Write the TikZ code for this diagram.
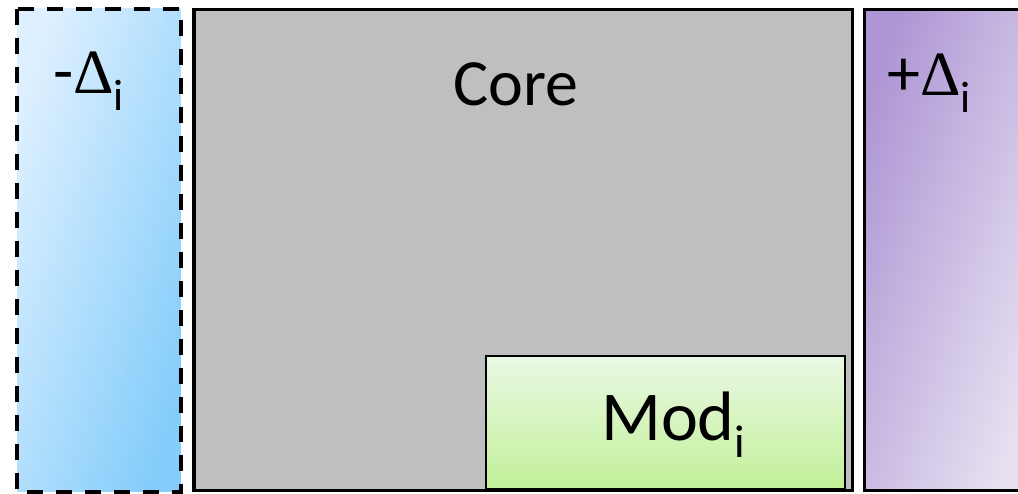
\documentclass[tikz,border=0pt]{standalone}
\usepackage{fontspec}
\setmainfont{Carlito}
\newfontfamily\deltafont{Liberation Serif}
\definecolor{minusTL}{RGB}{222,240,255}
\definecolor{minusBR}{RGB}{132,205,250}
\definecolor{plusTL}{RGB}{174,150,212}
\definecolor{plusBR}{RGB}{230,224,241}
\definecolor{coregray}{RGB}{191,191,191}
\definecolor{modtop}{RGB}{234,248,228}
\definecolor{modbot}{RGB}{193,240,152}
\newcommand{\lbl}[2][66]{\fontsize{#1}{#1}\selectfont #2}
\newcommand{\dlt}{{\deltafont\fontsize{63}{63}\selectfont Δ}}
\newcommand{\sub}[2][44]{\raisebox{-17pt}{\fontsize{#1}{#1}\selectfont #2}}
\begin{document}
\begin{tikzpicture}[x=1pt,y=-1pt,
  label text/.style={inner sep=0pt,anchor=base west,text=black},
  block/.style={draw=black,line width=3.2pt}]
\useasboundingbox (0,0) rectangle (1018,493);
\clip (0,0) rectangle (1018,493);
% removed part: dashed, blue
\path[top color=minusTL,bottom color=minusBR,shading angle=71]
  (17,8.5) rectangle (180.5,491.5);
\draw[black,line width=4pt,dash pattern=on 16pt off 13pt]
  (17,8.5) rectangle (180.5,491.5);
% core
\draw[block,fill=coregray] (194,9.5) rectangle (852.5,490.5);
% added part: purple, runs off the right edge
\path[top color=plusTL,bottom color=plusBR,shading angle=71]
  (864.5,9.5) rectangle (1030,490.5);
\draw[block] (1040,9.5) -- (864.5,9.5) -- (864.5,490.5) -- (1040,490.5);
% module inside the core
\draw[draw=black,line width=2pt,top color=modtop,bottom color=modbot]
  (486,356) rectangle (845,489);
% labels
\node[label text] (minus) at (53,93) {\lbl{-}\dlt\sub{i}};
\node[label text] (core) at (453,105) {\lbl{Core}};
\node[label text] (plus) at (887,95) {\lbl{+}\dlt\sub{i}};
\node[label text] (mod) at (601,440) {\lbl[70]{Mod}\sub[46]{i}};
\end{tikzpicture}
\end{document}
